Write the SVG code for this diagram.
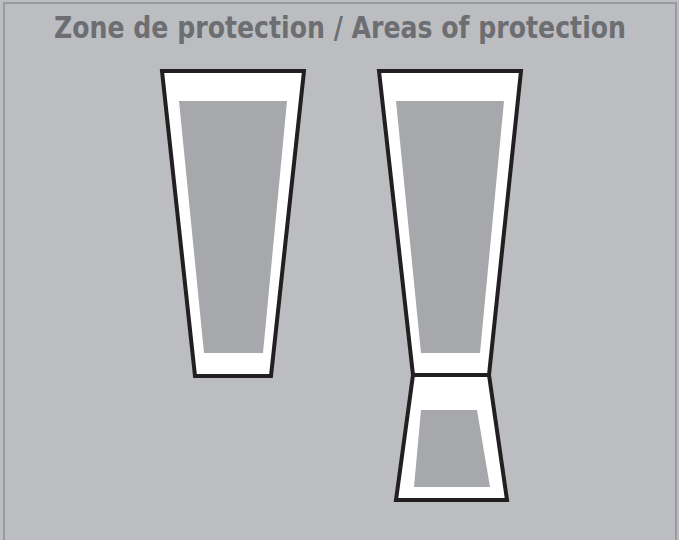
<svg xmlns="http://www.w3.org/2000/svg" width="679" height="540" viewBox="0 0 679 540">
<style>
.outer{fill:#ffffff;stroke:#231f20;stroke-width:4;stroke-linejoin:miter}
.inner{fill:#a7a8ac;stroke:none}
.title{font-family:"DejaVu Sans Condensed","DejaVu Sans",sans-serif;font-weight:bold;font-size:31px;fill:#6d6e72}
</style>
<rect x="0" y="0" width="679" height="540" fill="#bcbdc1"/>
<rect x="4" y="3" width="672" height="545" fill="none" stroke="#9a9b9f" stroke-width="2"/>
<text class="title" x="340" y="38" text-anchor="middle" textLength="572" lengthAdjust="spacingAndGlyphs">Zone de protection / Areas of protection</text>
<g id="zone1">
<polygon class="outer" points="162,71 304,71 271,376 195,376"/>
<polygon class="inner" points="179,101 287,101 263,353 204,353"/>
</g>
<g id="zone2-upper">
<polygon class="outer" points="379,71 521,71 489,375 413,375"/>
<polygon class="inner" points="396,101 504,101 480,353 421,353"/>
</g>
<g id="zone2-lower">
<polygon class="outer" points="413,375 489,375 507,500 396,500"/>
<polygon class="inner" points="421,410 477,410 490,487 414,487"/>
</g>
<g id="connectors"></g>
</svg>
